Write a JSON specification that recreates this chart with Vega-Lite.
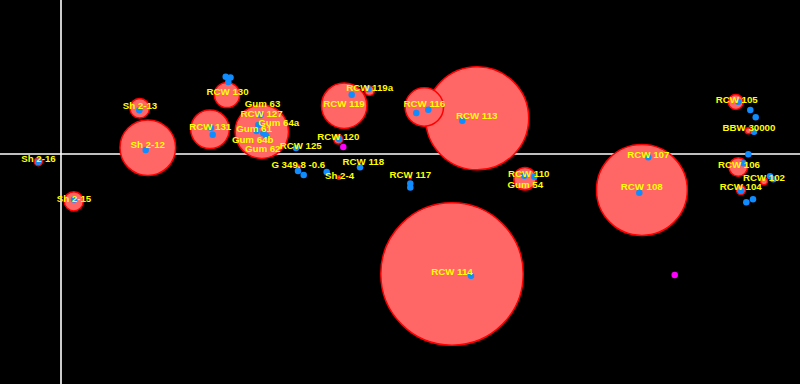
{
  "$schema": "https://vega.github.io/schema/vega-lite/v6.json",
  "width": 800,
  "height": 384,
  "autosize": {"type": "none"},
  "padding": 0,
  "background": "#000000",
  "config": {"view": {"stroke": null}},
  "datasets": {
    "axes": [{"x": 61, "y": 154}],
    "nebulae": [
      {"name": "RCW 114", "x": 452, "y": 274, "r": 71.2},
      {"name": "RCW 113", "x": 477.2, "y": 118.3, "r": 51.5},
      {"name": "RCW 108", "x": 641.9, "y": 190, "r": 45.4},
      {"name": "Sh 2-12", "x": 147.8, "y": 147.7, "r": 27.8},
      {"name": "Gum 61-64", "x": 261.8, "y": 131.7, "r": 26.7},
      {"name": "RCW 119", "x": 344.2, "y": 105.7, "r": 22.7},
      {"name": "RCW 131", "x": 210, "y": 129.3, "r": 19.3},
      {"name": "RCW 116", "x": 424.3, "y": 107, "r": 19.2},
      {"name": "RCW 130", "x": 227, "y": 95, "r": 12.6},
      {"name": "RCW 110", "x": 525, "y": 178.7, "r": 11.2},
      {"name": "Sh 2-13", "x": 139.7, "y": 108.3, "r": 9.8},
      {"name": "Sh 2-15", "x": 73.8, "y": 201.3, "r": 9.6},
      {"name": "RCW 106", "x": 738.3, "y": 167, "r": 9.3},
      {"name": "RCW 105", "x": 735.8, "y": 102, "r": 7.5},
      {"name": "RCW 119a", "x": 369.5, "y": 90.7, "r": 4.8},
      {"name": "RCW 120", "x": 338.3, "y": 139.3, "r": 4.6},
      {"name": "RCW 104", "x": 741, "y": 190, "r": 4.5},
      {"name": "Sh 2-16", "x": 38.3, "y": 161.7, "r": 4},
      {"name": "RCW 102", "x": 764, "y": 181.3, "r": 3.5},
      {"name": "BBW 30000", "x": 748.3, "y": 130.7, "r": 3},
      {"name": "G 349.8 -0.6", "x": 298.3, "y": 166.8, "r": 1.8},
      {"name": "Sh 2-4", "x": 339.2, "y": 177.5, "r": 1.8},
      {"name": "RCW 117", "x": 410.3, "y": 177.5, "r": 1.2}
    ],
    "labels": [
      {"name": "Sh 2-16", "x": 38.5, "y": 162},
      {"name": "Sh 2-15", "x": 74, "y": 201.5},
      {"name": "Sh 2-13", "x": 140, "y": 108.8},
      {"name": "Sh 2-12", "x": 147.7, "y": 148},
      {"name": "RCW 130", "x": 227.6, "y": 95.2},
      {"name": "RCW 131", "x": 210.2, "y": 130},
      {"name": "Gum 63", "x": 262.5, "y": 107},
      {"name": "RCW 127", "x": 261.6, "y": 117},
      {"name": "Gum 64a", "x": 278.7, "y": 125.7},
      {"name": "Gum 61", "x": 254, "y": 132},
      {"name": "Gum 64b", "x": 252.6, "y": 143.3},
      {"name": "Gum 62", "x": 262.7, "y": 152.3},
      {"name": "RCW 125", "x": 300.7, "y": 149},
      {"name": "RCW 120", "x": 338.3, "y": 139.7},
      {"name": "G 349.8 -0.6", "x": 298.3, "y": 168},
      {"name": "Sh 2-4", "x": 339.5, "y": 178.7},
      {"name": "RCW 118", "x": 363.3, "y": 164.7},
      {"name": "RCW 119", "x": 344, "y": 106.5},
      {"name": "RCW 119a", "x": 369.7, "y": 91},
      {"name": "RCW 116", "x": 424.3, "y": 107.3},
      {"name": "RCW 113", "x": 476.7, "y": 118.7},
      {"name": "RCW 117", "x": 410.3, "y": 178},
      {"name": "RCW 110", "x": 528.7, "y": 177.3},
      {"name": "Gum 54", "x": 525.3, "y": 188},
      {"name": "RCW 114", "x": 452, "y": 274.7},
      {"name": "RCW 107", "x": 648.3, "y": 157.7},
      {"name": "RCW 108", "x": 641.7, "y": 190.3},
      {"name": "RCW 105", "x": 736.7, "y": 102.7},
      {"name": "BBW 30000", "x": 749, "y": 131.3},
      {"name": "RCW 106", "x": 739, "y": 167.7},
      {"name": "RCW 102", "x": 764, "y": 181.3},
      {"name": "RCW 104", "x": 740.7, "y": 190.3}
    ],
    "stars": [
      {"x": 38, "y": 161.7}, {"x": 74, "y": 199.5}, {"x": 139.3, "y": 110.3},
      {"x": 145.7, "y": 150}, {"x": 225.7, "y": 76.7}, {"x": 230.5, "y": 77.5},
      {"x": 228.3, "y": 82}, {"x": 211, "y": 127.7}, {"x": 212.7, "y": 134.7},
      {"x": 260.5, "y": 115}, {"x": 258.3, "y": 125}, {"x": 263.3, "y": 133.3},
      {"x": 266, "y": 135.5}, {"x": 256.5, "y": 131}, {"x": 296, "y": 148},
      {"x": 339.3, "y": 139.3}, {"x": 298, "y": 171}, {"x": 303.7, "y": 175},
      {"x": 326.7, "y": 172}, {"x": 360, "y": 167.3}, {"x": 351.7, "y": 94.7},
      {"x": 368.3, "y": 89}, {"x": 416.3, "y": 113}, {"x": 428.3, "y": 109.7},
      {"x": 462.3, "y": 120.7}, {"x": 410.3, "y": 183.5}, {"x": 410.3, "y": 187.5},
      {"x": 524.3, "y": 175.7}, {"x": 534.3, "y": 176.7}, {"x": 471, "y": 275.7},
      {"x": 639.3, "y": 192.7}, {"x": 648.3, "y": 157.3}, {"x": 738.3, "y": 101.7},
      {"x": 750.3, "y": 110}, {"x": 755.7, "y": 117.3}, {"x": 754, "y": 131.7},
      {"x": 748.3, "y": 154.3}, {"x": 743.3, "y": 163.3}, {"x": 770, "y": 176.3},
      {"x": 773.3, "y": 179.3}, {"x": 741, "y": 191}, {"x": 746.3, "y": 202.3},
      {"x": 753, "y": 199.3}
    ],
    "others": [{"x": 343.3, "y": 147}, {"x": 674.7, "y": 275}]
  },
  "layer": [
    {
      "data": {"name": "axes"},
      "mark": {"type": "rule", "color": "#ffffff", "strokeWidth": 1.6},
      "encoding": {"x": {"field": "x", "type": "quantitative", "scale": {"domain": [0, 800], "nice": false, "zero": false}, "axis": null}}
    },
    {
      "data": {"name": "axes"},
      "mark": {"type": "rule", "color": "#ffffff", "strokeWidth": 1.6},
      "encoding": {"y": {"field": "y", "type": "quantitative", "scale": {"domain": [0, 384], "nice": false, "zero": false, "reverse": true}, "axis": null}}
    },
    {
      "data": {"name": "nebulae"},
      "mark": {"type": "point", "shape": "circle", "filled": true, "fill": "#ff6666", "stroke": "#ff0000", "strokeWidth": 1.5, "opacity": 1, "fillOpacity": 1, "strokeOpacity": 1},
      "encoding": {
        "x": {"field": "x", "type": "quantitative", "axis": null},
        "y": {"field": "y", "type": "quantitative", "axis": null},
        "size": {"field": "r", "type": "quantitative", "scale": {"type": "pow", "exponent": 2, "domain": [0, 100], "range": [0, 40000]}, "legend": null}
      }
    },
    {
      "data": {"name": "stars"},
      "mark": {"type": "point", "shape": "circle", "filled": true, "color": "#0f8cff", "size": 42, "opacity": 1},
      "encoding": {
        "x": {"field": "x", "type": "quantitative", "axis": null},
        "y": {"field": "y", "type": "quantitative", "axis": null}
      }
    },
    {
      "data": {"name": "others"},
      "mark": {"type": "point", "shape": "circle", "filled": true, "color": "#ff00ff", "size": 42, "opacity": 1},
      "encoding": {
        "x": {"field": "x", "type": "quantitative", "axis": null},
        "y": {"field": "y", "type": "quantitative", "axis": null}
      }
    },
    {
      "data": {"name": "labels"},
      "mark": {"type": "text", "color": "#ffff00", "font": "Liberation Sans", "fontWeight": "bold", "fontSize": 9.7, "align": "center", "baseline": "alphabetic"},
      "encoding": {
        "x": {"field": "x", "type": "quantitative", "axis": null},
        "y": {"field": "y", "type": "quantitative", "axis": null},
        "text": {"field": "name"}
      }
    }
  ]
}
